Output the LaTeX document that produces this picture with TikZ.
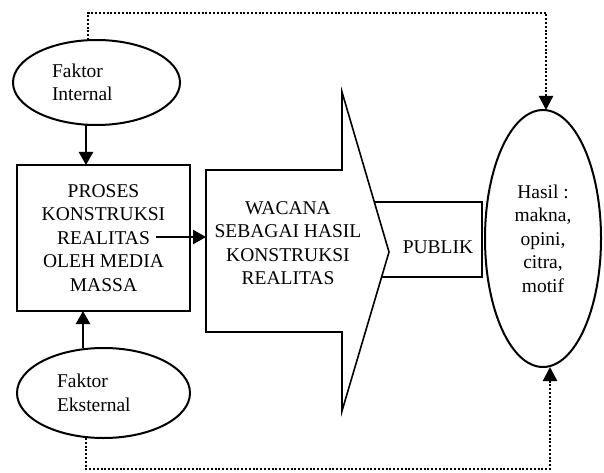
\documentclass[tikz,border=0pt]{standalone}
\usepackage{fontspec}
\setmainfont{Liberation Serif}
\usetikzlibrary{arrows.meta,shapes.geometric,calc}
\begin{document}
\begin{tikzpicture}[x=1pt,y=-1pt,
  txt/.style={font=\fontsize{19.5}{23.5}\selectfont, align=center},
  ell/.style={draw, ellipse, line width=2pt, inner sep=0pt, outer sep=0pt, fill=white},
  boxline/.style={draw, line width=2.4pt},
  arr/.style={line width=2.4pt, -{Triangle[length=13pt,width=14pt]}},
  dotarr/.style={line width=2.2pt, dash pattern=on 2pt off 1.8pt, -{Triangle[length=14pt,width=14pt]}}]
\useasboundingbox (0,0) rectangle (604,473);
% Faktor ellipses
\node[ell, minimum width=167pt, minimum height=85pt, txt, align=left, text width=89pt] (fi) at (96.5,82.5) {Faktor\\Internal};
\node[ell, minimum width=173pt, minimum height=90pt, txt, align=left, text width=93pt] (fe) at (103.5,393) {Faktor\\Eksternal};
% Proses box
\node[boxline, minimum width=173pt, minimum height=146pt, inner sep=0pt, outer sep=0pt, txt] (proses) at (103.5,238) {PROSES\\KONSTRUKSI\\REALITAS\\OLEH MEDIA\\MASSA};
% Publik box
\draw[line width=2.4pt] (482,202) -- (360,202) -- (360,277) -- (482,277) -- cycle;
\node[txt] (publik) at (438,247) {PUBLIK};
% Big arrow
\draw[line width=1.6pt, fill=white] (206,170) -- (342,170) -- (342,92) -- (389,252) -- (342,411) -- (342,332) -- (206,332) -- cycle;
\node[txt] (wacana) at (288,243) {WACANA\\SEBAGAI HASIL\\KONSTRUKSI\\REALITAS};
% Hasil ellipse
\node[ell, minimum width=116pt, minimum height=257pt, txt] (hasil) at (543,238.5) {Hasil :\\makna,\\opini,\\citra,\\motif};
% connectors
\draw[arr] ([xshift=-10.5pt]fi.south) -- ([xshift=-17.5pt]proses.north);
\draw[arr] ([xshift=-20.5pt]fe.north) -- ([xshift=-20.5pt]proses.south);
\coordinate (pin) at (156,237);
\coordinate (win) at (206,237);
\draw[arr] (pin) -- (win);
\coordinate (tc) at (546,13);
\coordinate (bc) at (550,469);
\draw[dotarr] ([xshift=-8.5pt]fi.north) |- (tc) -- (tc |- hasil.north);
\draw[dotarr] ([xshift=-17.5pt]fe.south) |- (bc) -- (bc |- hasil.south);
\end{tikzpicture}
\end{document}
